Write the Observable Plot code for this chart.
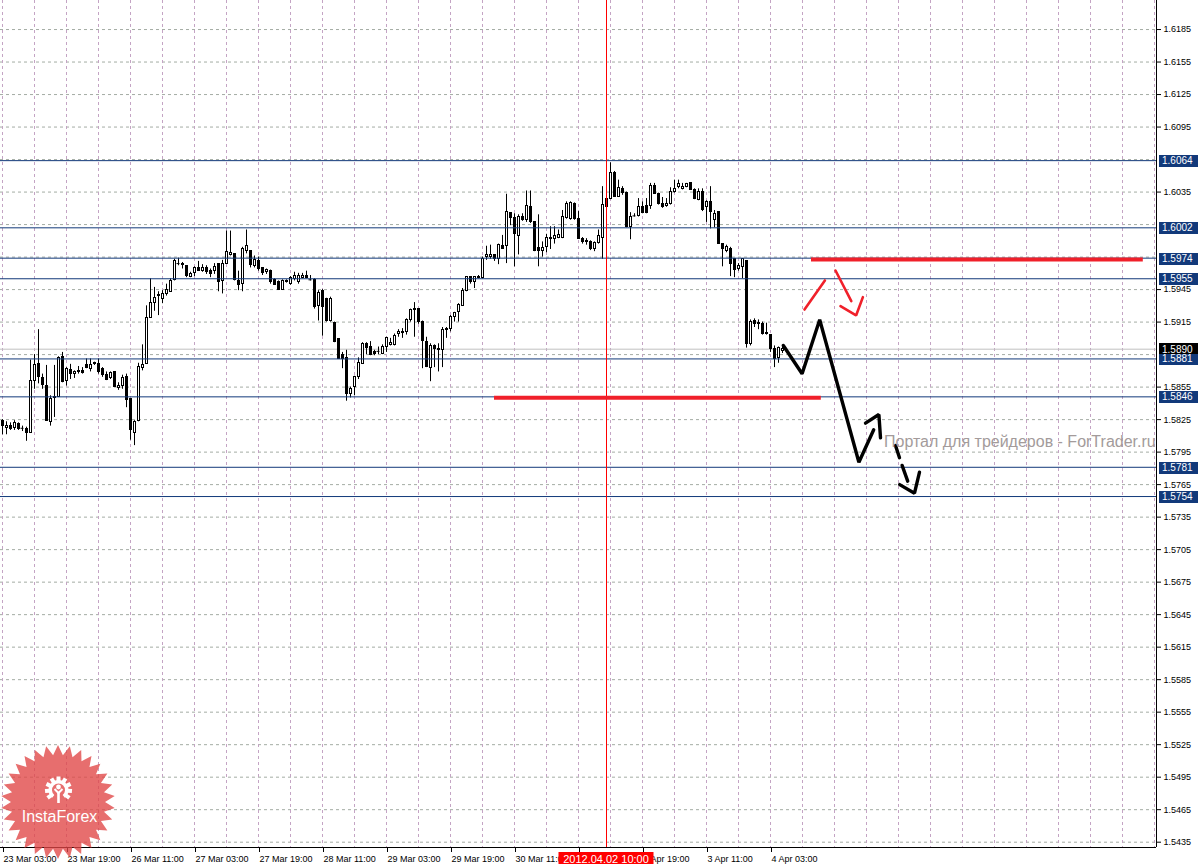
<!DOCTYPE html>
<html><head><meta charset="utf-8">
<script src="https://cdn.jsdelivr.net/npm/d3@7"></script>
<script src="https://cdn.jsdelivr.net/npm/@observablehq/plot@0.6"></script>
<style>
html,body{margin:0;padding:0;background:#fff;}
#chart{position:relative;width:1200px;height:864px;overflow:hidden;}
</style></head><body><div id="chart"></div>
<script>
// ---- Data: GBPUSD H1 candles, bar index 0 = 23 Mar 03:00 ----
const opens = [1.5824,1.5817,1.5819,1.5817,1.5821,1.5817,1.5816,1.5813,1.5861,1.5876,
1.5863,1.5856,1.5823,1.5845,1.5846,1.5883,1.5861,1.5871,1.5867,1.5869,
1.5870,1.5875,1.5872,1.5877,1.5876,1.5872,1.5866,1.5863,1.5869,1.5854,
1.5856,1.5864,1.5844,1.5813,1.5824,1.5873,1.5876,1.5919,1.5933,1.5939,
1.5936,1.5941,1.5943,1.5954,1.5969,1.5969,1.5967,1.5957,1.5960,1.5965,
1.5962,1.5965,1.5962,1.5962,1.5969,1.5953,1.5969,1.5977,1.5978,1.5953,
1.5950,1.5981,1.5981,1.5967,1.5971,1.5965,1.5961,1.5962,1.5954,1.5952,
1.5945,1.5953,1.5950,1.5955,1.5952,1.5956,1.5958,1.5954,1.5954,1.5930,
1.5944,1.5936,1.5916,1.5914,1.5899,1.5885,1.5882,1.5849,1.5855,1.5864,
1.5876,1.5895,1.5892,1.5887,1.5888,1.5886,1.5892,1.5894,1.5894,1.5904,
1.5905,1.5906,1.5917,1.5926,1.5927,1.5915,1.5897,1.5873,1.5893,1.5890,
1.5889,1.5908,1.5909,1.5920,1.5924,1.5930,1.5944,1.5957,1.5952,1.5956,
1.5956,1.5975,1.5975,1.5977,1.5973,1.5985,1.5985,1.6016,1.6011,1.5994,
1.6012,1.6009,1.6021,1.6007,1.5983,1.5981,1.5984,1.5992,1.5992,1.5993,
1.5993,1.6011,1.6010,1.6024,1.6010,1.5992,1.5990,1.5989,1.5982,1.5988,
1.5993,1.6029,1.6029,1.6053,1.6030,1.6038,1.6034,1.6003,1.6013,1.6013,
1.6021,1.6022,1.6022,1.6041,1.6033,1.6024,1.6022,1.6024,1.6035,1.6040,
1.6038,1.6040,1.6043,1.6037,1.6028,1.6035,1.6021,1.6026,1.6009,1.6017,
1.5987,1.5981,1.5982,1.5973,1.5964,1.5966,1.5971,1.5895,1.5916,1.5913,
1.5913,1.5905,1.5903,1.5890,1.5882,1.5888];
const highs = [1.5825,1.5823,1.5822,1.5824,1.5822,1.5819,1.5818,1.5880,1.5885,1.5908,
1.5867,1.5875,1.5847,1.5875,1.5883,1.5887,1.5873,1.5876,1.5870,1.5874,
1.5873,1.5881,1.5881,1.5878,1.5881,1.5873,1.5869,1.5869,1.5869,1.5859,
1.5866,1.5867,1.5844,1.5824,1.5877,1.5894,1.5930,1.5955,1.5947,1.5943,
1.5944,1.5950,1.5955,1.5973,1.5974,1.5970,1.5967,1.5961,1.5966,1.5971,
1.5968,1.5967,1.5964,1.5969,1.5969,1.5972,1.5999,1.5999,1.5978,1.5962,
1.5984,1.6000,1.5981,1.5976,1.5975,1.5965,1.5964,1.5963,1.5955,1.5953,
1.5954,1.5954,1.5957,1.5961,1.5960,1.5960,1.5962,1.5958,1.5955,1.5944,
1.5945,1.5937,1.5938,1.5915,1.5899,1.5887,1.5889,1.5855,1.5865,1.5882,
1.5896,1.5896,1.5897,1.5889,1.5892,1.5894,1.5901,1.5900,1.5904,1.5908,
1.5909,1.5918,1.5927,1.5933,1.5927,1.5916,1.5901,1.5895,1.5894,1.5895,
1.5910,1.5910,1.5921,1.5924,1.5932,1.5946,1.5957,1.5957,1.5957,1.5958,
1.5975,1.5985,1.5986,1.5977,1.5987,1.5995,1.6033,1.6016,1.6015,1.6014,
1.6015,1.6036,1.6036,1.6007,1.6014,1.5989,1.5996,1.6003,1.6003,1.6000,
1.6018,1.6026,1.6026,1.6025,1.6017,1.5993,1.5992,1.5990,1.5989,1.6000,
1.6040,1.6030,1.6062,1.6054,1.6046,1.6040,1.6035,1.6016,1.6015,1.6029,
1.6026,1.6029,1.6043,1.6043,1.6034,1.6030,1.6029,1.6039,1.6046,1.6046,
1.6043,1.6043,1.6043,1.6038,1.6038,1.6038,1.6027,1.6040,1.6018,1.6017,
1.5987,1.5986,1.5984,1.5973,1.5969,1.5973,1.5971,1.5917,1.5918,1.5917,
1.5915,1.5914,1.5903,1.5893,1.5892,1.5893];
const lows = [1.5811,1.5811,1.5815,1.5815,1.5815,1.5814,1.5805,1.5813,1.5853,1.5858,
1.5853,1.5824,1.5819,1.5827,1.5846,1.5859,1.5856,1.5862,1.5863,1.5867,
1.5867,1.5872,1.5869,1.5875,1.5867,1.5864,1.5861,1.5862,1.5855,1.5852,
1.5853,1.5836,1.5806,1.5801,1.5823,1.5870,1.5876,1.5919,1.5925,1.5921,
1.5932,1.5939,1.5943,1.5953,1.5967,1.5964,1.5956,1.5956,1.5957,1.5962,
1.5961,1.5959,1.5956,1.5959,1.5943,1.5941,1.5969,1.5976,1.5953,1.5944,
1.5943,1.5978,1.5965,1.5965,1.5962,1.5958,1.5959,1.5950,1.5949,1.5945,
1.5945,1.5951,1.5949,1.5953,1.5950,1.5955,1.5955,1.5953,1.5927,1.5916,
1.5902,1.5915,1.5915,1.5896,1.5881,1.5872,1.5842,1.5845,1.5847,1.5862,
1.5876,1.5885,1.5884,1.5884,1.5885,1.5885,1.5887,1.5893,1.5893,1.5901,
1.5900,1.5903,1.5915,1.5901,1.5913,1.5872,1.5873,1.5860,1.5873,1.5869,
1.5873,1.5900,1.5906,1.5915,1.5915,1.5930,1.5943,1.5950,1.5946,1.5955,
1.5955,1.5972,1.5973,1.5971,1.5968,1.5982,1.5969,1.6004,1.5966,1.5977,
1.6008,1.6007,1.6006,1.5980,1.5966,1.5975,1.5979,1.5982,1.5987,1.5992,
1.5992,1.6010,1.6009,1.6009,1.5992,1.5987,1.5986,1.5981,1.5980,1.5987,
1.5973,1.6020,1.6028,1.6030,1.6030,1.6032,1.6002,1.5991,1.6012,1.6012,
1.6015,1.6015,1.6019,1.6033,1.6023,1.6020,1.6021,1.6023,1.6034,1.6038,
1.6037,1.6039,1.6037,1.6028,1.6027,1.6017,1.6007,1.6001,1.6002,1.5987,
1.5966,1.5979,1.5957,1.5956,1.5962,1.5955,1.5891,1.5893,1.5910,1.5908,
1.5903,1.5903,1.5887,1.5873,1.5877,1.5886];
const closes = [1.5819,1.5819,1.5816,1.5822,1.5816,1.5817,1.5813,1.5861,1.5875,1.5864,
1.5857,1.5824,1.5844,1.5846,1.5882,1.5860,1.5872,1.5867,1.5869,1.5870,
1.5868,1.5873,1.5875,1.5876,1.5869,1.5866,1.5862,1.5868,1.5855,1.5856,
1.5863,1.5843,1.5815,1.5823,1.5874,1.5875,1.5919,1.5933,1.5937,1.5940,
1.5941,1.5945,1.5953,1.5971,1.5969,1.5968,1.5958,1.5959,1.5965,1.5962,
1.5965,1.5961,1.5959,1.5966,1.5952,1.5969,1.5980,1.5979,1.5954,1.5949,
1.5982,1.5985,1.5968,1.5972,1.5964,1.5960,1.5963,1.5952,1.5949,1.5945,
1.5953,1.5952,1.5956,1.5958,1.5958,1.5958,1.5956,1.5954,1.5929,1.5942,
1.5929,1.5916,1.5936,1.5897,1.5881,1.5881,1.5849,1.5853,1.5864,1.5877,
1.5895,1.5891,1.5885,1.5886,1.5888,1.5892,1.5900,1.5896,1.5902,1.5906,
1.5906,1.5917,1.5926,1.5927,1.5915,1.5898,1.5874,1.5893,1.5890,1.5889,
1.5908,1.5909,1.5920,1.5923,1.5931,1.5944,1.5957,1.5952,1.5957,1.5957,
1.5973,1.5977,1.5977,1.5973,1.5986,1.5982,1.6017,1.6011,1.5996,1.6012,
1.6009,1.6022,1.6007,1.5981,1.5981,1.5983,1.5993,1.5993,1.5994,1.5995,
1.6012,1.6024,1.6025,1.6010,1.5992,1.5989,1.5989,1.5982,1.5988,1.5994,
1.6023,1.6021,1.6053,1.6030,1.6039,1.6034,1.6003,1.6012,1.6013,1.6021,
1.6016,1.6016,1.6041,1.6033,1.6024,1.6021,1.6024,1.6035,1.6038,1.6042,
1.6040,1.6042,1.6037,1.6029,1.6035,1.6018,1.6026,1.6017,1.6015,1.5987,
1.5982,1.5984,1.5969,1.5963,1.5967,1.5973,1.5895,1.5915,1.5913,1.5914,
1.5904,1.5904,1.5890,1.5881,1.5891,1.5890];

// time-axis labels (bar index -> label); the 2 Apr 03:00 label sits under the cursor box
const xTickIdx = [0,16,32,48,64,80,96,112,128,144,160,176,192];
const xTickLabels = ["23 Mar 03:00","23 Mar 19:00","26 Mar 11:00","27 Mar 03:00","27 Mar 19:00","28 Mar 11:00","29 Mar 03:00","29 Mar 19:00","30 Mar 11:00","2 Apr 03:00","2 Apr 19:00","3 Apr 11:00","4 Apr 03:00"];
const cursorIdx = 151;
const cursorLabel = "2012.04.02 10:00";
const levels = [1.6064, 1.6002, 1.5974, 1.5955, 1.5881, 1.5846, 1.5781, 1.5754];
const currentPrice = 1.5890;

// hand-drawn forecast (bar index, price, segment id)
const blackX = [195.2,199.9,204.3,214.1,217.8, 215.75,219.1,219.5, 223.25,224.25, 224.9,226.3, 224.3,228,229.25];
const blackY = [1.58934,1.58673,1.59171,1.57857,1.58156, 1.58217,1.58297,1.58082, 1.58011,1.57898, 1.57827,1.57682, 1.57650,1.57571,1.57765];
const blackSeg = [0,0,0,0,0, 1,1,1, 2,2, 3,3, 4,4,4];
const redX = [200.5,205.6, 208.25,212.2, 209.5,213.4,215.1];
const redY = [1.59266,1.59534, 1.59626,1.59343, 1.59297,1.59211,1.59380];
const redSeg = [0,0, 1,1, 2,2,2];
const zoneX1 = [202.25, 123];
const zoneX2 = [285.2, 204.7];
const zoneY = [1.59728, 1.58451];
const watermark = "Портал для трейдеров - ForTrader.ru";
const watermarkAt = {i: 220.5, p: 1.57993};

// ---- build ----
const candles = opens.map((o, i) => ({i, o, h: highs[i], l: lows[i], c: closes[i]}));
const yTicks = d3.range(26).map(k => +(1.5435 + 0.003 * k).toFixed(4));
const boxed = levels.concat([currentPrice]);
// price labels fully covered by a level box are not drawn
const yLabelTicks = yTicks.filter(t => !boxed.some(L => Math.abs(L - t) < 0.0005));
const gridXIdx = d3.range(0, 289, 8);
const hiddenTick = 144;
const labelByIdx = new Map(xTickIdx.map((d, k) => [d, xTickLabels[k]]));
const blackPts = blackX.map((x, k) => ({x, y: blackY[k], g: blackSeg[k]}));
const redPts = redX.map((x, k) => ({x, y: redY[k], g: redSeg[k]}));
const zones = zoneY.map((y, k) => ({y, x1: zoneX1[k], x2: zoneX2[k]}));
const navy = "#12397a";
const font = "'Liberation Sans', Arial, sans-serif";

const plot = Plot.plot({
  width: 1200, height: 864,
  marginLeft: 0, marginRight: 44, marginTop: 0, marginBottom: 17,
  style: {background: "#fff", fontFamily: font, fontSize: "9px", color: "#000", overflow: "visible"},
  x: {domain: [-0.5, 288.5]},
  y: {domain: [1.54301, 1.62118]},
  marks: [
    Plot.gridY(yTicks, {stroke: "#a4aca4", strokeOpacity: 1, strokeDasharray: "3,3"}),
    Plot.gridX(gridXIdx, {stroke: "#c4a4c4", strokeOpacity: 1, strokeDasharray: "3,3"}),
    Plot.ruleY([currentPrice], {stroke: "#c0c0c0"}),
    Plot.ruleX(candles, {x: "i", y1: "l", y2: "h", stroke: "#000"}),
    Plot.rect(candles.filter(d => d.o !== d.c), {
      x1: d => d.i - 0.25, x2: d => d.i + 0.25, y1: "o", y2: "c",
      fill: d => d.c > d.o ? "#fff" : "#000", stroke: "#000", shapeRendering: "crispEdges"
    }),
    Plot.ruleY(candles.filter(d => d.o === d.c), {y: "o", x1: d => d.i - 0.375, x2: d => d.i + 0.375, stroke: "#000"}),
    Plot.ruleY(levels, {stroke: navy}),
    Plot.ruleX([cursorIdx], {stroke: "#ff0000"}),
    Plot.ruleY(zones, {y: "y", x1: "x1", x2: "x2", stroke: "#f0202a", strokeWidth: 4}),
    Plot.line(redPts, {x: "x", y: "y", z: "g", stroke: "#f0202a", strokeWidth: 2.6, strokeLinejoin: "miter"}),
    Plot.line(blackPts, {x: "x", y: "y", z: "g", stroke: "#000", strokeWidth: 3.4, strokeLinejoin: "miter"}),
    Plot.ruleY([1.54301], {stroke: "#000"}),
    Plot.ruleX([288.5], {stroke: "#000"}),
    Plot.axisX({ticks: xTickIdx, tickFormat: d => d === hiddenTick ? "" : labelByIdx.get(d), tickSize: 5, tickPadding: 3,
      textAnchor: "start", dx: 1, fontSize: 9, anchor: "bottom", label: null}),
    Plot.axisY({anchor: "right", ticks: yLabelTicks, tickFormat: d => d.toFixed(4), tickSize: 4, tickPadding: 3,
      fontSize: 9, label: null})
  ]
});
document.getElementById("chart").appendChild(plot);

// ---- annotations placed through the plot's own scales ----
const svg = d3.select(plot);
const xs = plot.scale("x"), ys = plot.scale("y");
const ann = svg.append("g").attr("font-family", font).attr("text-anchor", "start");

boxed.forEach(L => {
  const y = Math.round(ys.apply(L));
  const isCur = L === currentPrice;
  ann.append("rect").attr("x", 1159).attr("y", isCur ? y - 6 : y - 5).attr("width", 39).attr("height", isCur ? 11 : 12)
    .attr("fill", isCur ? "#000" : navy);
  ann.append("text").attr("x", 1162).attr("y", y + 4).attr("fill", "#fff")
    .attr("font-size", "10px").text(L.toFixed(4));
});

// cursor date box on the time axis
const cx = Math.round(xs.apply(cursorIdx)) + 0.5;
ann.append("rect").attr("x", cx - 48).attr("y", 852).attr("width", 95).attr("height", 13).attr("fill", "#ff0000");
ann.append("text").attr("x", cx - 0.5).attr("y", 862.5).attr("text-anchor", "middle").attr("fill", "#fff")
  .attr("font-size", "11px").text(cursorLabel);

// watermark
ann.append("text").attr("x", xs.apply(watermarkAt.i)).attr("y", ys.apply(watermarkAt.p))
  .attr("fill", "#a39b9b").attr("font-size", "16px").text(watermark);

// InstaForex logo (decoration)
const logo = svg.append("g").attr("font-family", font);
const lx = 58, ly = 802, R = 57, r = 47, n = 30;
const star = d3.range(2 * n).map(k => {
  const a = k * Math.PI / n - Math.PI / 2, rad = k % 2 === 0 ? R : r;
  return [lx + rad * Math.cos(a), ly + rad * Math.sin(a)];
});
logo.append("path").attr("d", "M" + star.join("L") + "Z").attr("fill", "#e04545").attr("fill-opacity", 0.78);
const gx = 58.5, gy = 790;
logo.append("path").attr("transform", `translate(${gx},${gy})`)
  .attr("d", d3.arc()({innerRadius: 6.5, outerRadius: 10, startAngle: -2.45, endAngle: 2.45})).attr("fill", "#fff");
d3.range(-2.2, 2.3, 0.55).forEach(a => {
  logo.append("rect").attr("x", -2).attr("y", -13.5).attr("width", 4).attr("height", 5).attr("fill", "#fff")
    .attr("transform", `translate(${gx},${gy}) rotate(${a * 180 / Math.PI})`);
});
logo.append("circle").attr("cx", gx).attr("cy", gy - 3).attr("r", 2.4).attr("fill", "#fff");
logo.append("path").attr("d", `M${gx - 4},${gy - 1} L${gx},${gy + 3} L${gx + 4},${gy - 1}`)
  .attr("stroke", "#fff").attr("stroke-width", 2).attr("fill", "none");
logo.append("rect").attr("x", gx - 1.3).attr("y", gy + 2).attr("width", 2.6).attr("height", 11).attr("fill", "#fff");
logo.append("text").attr("x", 59.5).attr("y", 821.5).attr("text-anchor", "middle").attr("fill", "#fff")
  .attr("font-size", "16px").text("InstaForex");
</script></body></html>
